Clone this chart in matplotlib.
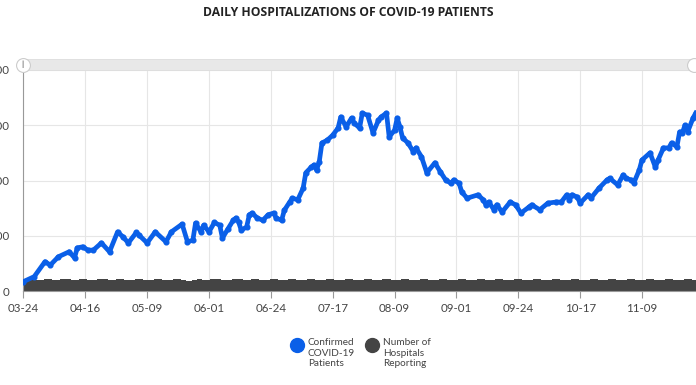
import matplotlib
matplotlib.use("Agg")
import matplotlib.pyplot as plt
import matplotlib.dates as mdates
from matplotlib.lines import Line2D
from matplotlib.patches import Rectangle
import pandas as pd

# confirmed covid-19 patients
line_dates = [
    "03-24", "03-28", "04-01", "04-03", "04-06", "04-10", "04-12", "04-13",
    "04-15", "04-17", "04-19", "04-22", "04-25", "04-28", "04-30", "05-02",
    "05-05", "05-06", "05-09", "05-12", "05-16", "05-18", "05-22", "05-24",
    "05-26", "05-27", "05-29", "05-30", "06-01", "06-03", "06-05", "06-06",
    "06-08", "06-10", "06-11", "06-12", "06-13", "06-15", "06-16", "06-17",
    "06-19", "06-21", "06-23", "06-25", "06-26", "06-28", "06-29", "07-01",
    "07-02", "07-04", "07-06", "07-07", "07-09", "07-10", "07-11", "07-12",
    "07-13", "07-15", "07-17", "07-19", "07-20", "07-22", "07-24", "07-25",
    "07-27", "07-28", "07-30", "08-01", "08-03", "08-04", "08-06", "08-07",
    "08-09", "08-10", "08-11", "08-12", "08-14", "08-16", "08-17", "08-19",
    "08-21", "08-24", "08-26", "08-28", "08-30", "08-31", "09-02", "09-03",
    "09-05", "09-09", "09-11", "09-12", "09-13", "09-15", "09-16", "09-18",
    "09-21", "09-23", "09-25", "09-28", "09-29", "10-02", "10-05", "10-08",
    "10-10", "10-12", "10-13", "10-14", "10-16", "10-17", "10-20", "10-21",
    "10-24", "10-27", "10-28", "10-31", "11-02", "11-03", "11-05", "11-06",
    "11-08", "11-09", "11-12", "11-14", "11-15", "11-17", "11-19", "11-20",
    "11-22", "11-23", "11-24", "11-25", "11-26", "11-28", "11-29",
]
confirmed = [
    85, 130, 265, 235, 310, 355, 300, 390,
    400, 370, 370, 435, 355, 535, 490, 435,
    530, 505, 435, 535, 445, 535, 605, 445,
    460, 615, 535, 595, 535, 620, 595, 480,
    560, 640, 660, 625, 550, 580, 690, 705,
    660, 640, 690, 705, 660, 640, 730, 805,
    840, 825, 930, 1070, 1120, 1140, 1095, 1170,
    1340, 1365, 1410, 1475, 1575, 1485, 1565, 1520,
    1475, 1610, 1590, 1430, 1545, 1575, 1610, 1395,
    1455, 1565, 1485, 1385, 1340, 1260, 1295, 1215,
    1070, 1160, 1080, 1005, 975, 1005, 975, 895,
    840, 870, 825, 780, 805, 735, 780, 715,
    805, 780, 705, 760, 780, 735, 795, 805,
    805, 870, 825, 870, 850, 795, 870, 840,
    930, 1005, 1020, 960, 1050, 1020, 1005, 980,
    1095, 1185, 1250, 1120, 1185, 1295, 1295, 1340,
    1305, 1440, 1430, 1500, 1440, 1565, 1610,
]

# number of hospitals reporting, one per day from 03-24
hospitals = [
    100, 104, 106, 105, 103, 98, 101, 104, 107, 108,
    106, 102, 99, 103, 106, 108, 107, 105, 101, 98,
    104, 107, 108, 106, 104, 100, 97, 103, 106, 109,
    108, 105, 101, 99, 104, 107, 108, 107, 104, 100,
    98, 103, 106, 108, 106, 103, 99, 97, 102, 105,
    107, 106, 103, 99, 96, 101, 105, 107, 106, 102,
    98, 94, 92, 100, 104, 107, 106, 103, 99, 100,
    105, 108, 109, 107, 104, 100, 99, 104, 107, 108,
    107, 105, 101, 99, 103, 106, 108, 107, 104, 101,
    99, 104, 107, 108, 107, 104, 100, 98, 103, 107,
    108, 106, 103, 100, 99, 104, 107, 109, 107, 104,
    100, 99, 103, 107, 108, 107, 104, 101, 99, 104,
    106, 108, 107, 103, 100, 98, 103, 106, 108, 107,
    104, 101, 99, 104, 107, 108, 106, 103, 100, 99,
    104, 107, 108, 107, 104, 100, 98, 103, 106, 108,
    107, 104, 101, 99, 104, 107, 108, 107, 104, 100,
    99, 103, 106, 108, 107, 104, 101, 99, 104, 107,
    108, 106, 103, 100, 98, 103, 106, 108, 107, 104,
    100, 99, 104, 107, 108, 107, 103, 100, 98, 103,
    107, 108, 107, 104, 101, 99, 104, 106, 108, 107,
    104, 100, 99, 103, 107, 108, 107, 104, 101, 99,
    104, 107, 108, 106, 103, 100, 98, 103, 106, 108,
    107, 104, 101, 99, 104, 107, 108, 107, 104, 100,
    99, 103, 106, 108, 107, 104, 101, 99, 104, 107,
    108, 106, 103, 100, 98, 103, 106, 108, 107, 104,
    101,
]

tick_labels = ["03-24", "04-16", "05-09", "06-01", "06-24", "07-17",
               "08-09", "09-01", "09-24", "10-17", "11-09"]
y_ticks = [0, 500, 1000, 1500, 2000]

BLUE = "#0a5fe8"
GRAY = "#444444"
TXT = "#444444"

plt.rcParams["font.family"] = ["Lato", "DejaVu Sans"]

W, H = 696, 385
fig = plt.figure(figsize=(W / 100, H / 100), dpi=100)
ax = fig.add_axes([23 / W, 1 - 291 / H, (W - 23) / W, 221 / H])

x_line = pd.to_datetime(["2020-" + d for d in line_dates])
x_bars = pd.date_range("2020-03-24", periods=len(hospitals), freq="D")
ticks = pd.to_datetime(["2020-" + d for d in tick_labels])

ax.bar(x_bars, hospitals, width=1.0, color=GRAY, linewidth=0, zorder=2)
ax.plot(x_line, confirmed, color=BLUE, lw=3.4, marker="o", ms=3.4,
        solid_joinstyle="round", zorder=3)

ax.set_xlim(pd.Timestamp("2020-03-24") - pd.Timedelta(hours=4),
            pd.Timestamp("2020-03-24") + pd.Timedelta(days=250.1))
ax.set_ylim(0, 2000)
ax.set_xticks(ticks)
ax.xaxis.set_major_formatter(mdates.DateFormatter("%m-%d"))
ax.set_yticks(y_ticks)

ax.grid(True, color="#e6e6e6", lw=0.8, zorder=0)
ax.set_axisbelow(True)
for s in ["top", "right"]:
    ax.spines[s].set_visible(False)
ax.spines["left"].set_color("#999999")
ax.spines["bottom"].set_color("#999999")
ax.tick_params(axis="x", length=5, color="#999999", labelsize=8.3,
               labelcolor=TXT, pad=4)
ax.tick_params(axis="y", length=0, labelsize=8.3, labelcolor=TXT, pad=10)

# scrollbar above the plot
fig.add_artist(Rectangle((23 / W, 1 - 70 / H), (W - 23) / W, 11 / H,
                         transform=fig.transFigure, fc="#e8e8e8",
                         ec="#dddddd", lw=0.6))
for hx in [23, 694]:
    fig.add_artist(Line2D([hx / W], [1 - 64.5 / H], marker="o", ms=10,
                          mfc="white", mec="#cccccc", mew=0.8,
                          transform=fig.transFigure))
fig.text(23 / W, 1 - 64.5 / H, "||", ha="center", va="center",
         fontsize=5, color="#888888")

fig.text(0.5, 1 - 13 / H, "DAILY HOSPITALIZATIONS OF COVID-19 PATIENTS",
         ha="center", va="center", fontsize=8.7, fontweight="bold",
         color="#222222", family=["Open Sans", "DejaVu Sans"])

# legend
legend_items = [(297, BLUE, "Confirmed\nCOVID-19\nPatients"),
                (372, GRAY, "Number of\nHospitals\nReporting")]
for lx, c, lab in legend_items:
    fig.add_artist(Line2D([lx / W], [1 - 345 / H], marker="o", ms=10,
                          mfc=c, mec=c, transform=fig.transFigure))
    fig.text((lx + 11) / W, 1 - 338 / H, lab, ha="left", va="top",
             fontsize=7.2, color=TXT, linespacing=1.25)

fig.savefig("out.png", dpi=100)
